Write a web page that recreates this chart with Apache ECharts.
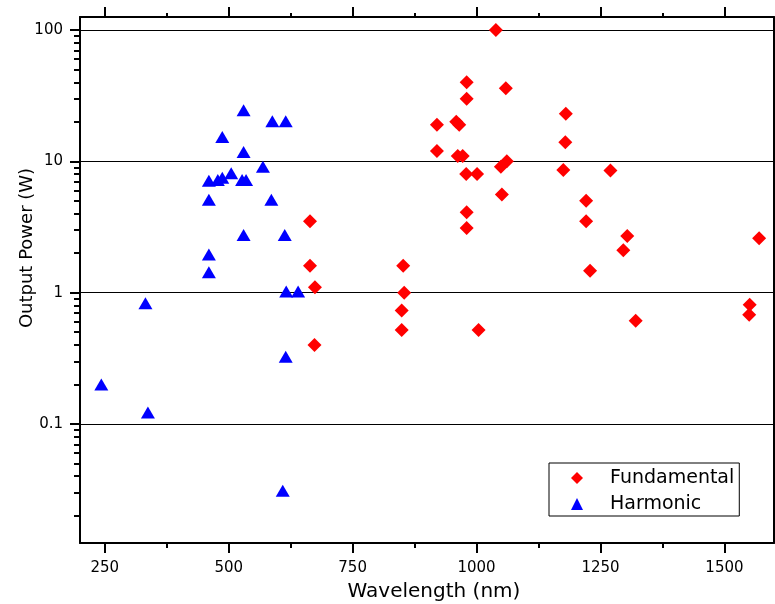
<!DOCTYPE html>
<html>
<head>
<meta charset="utf-8">
<script src="https://cdn.jsdelivr.net/npm/echarts@6/dist/echarts.min.js"></script>
<style>
html,body{margin:0;padding:0;background:#fff;}
#chart{width:775px;height:604px;}
</style>
</head>
<body>
<div id="chart"></div>
<script>
// Fundamental (red diamonds): wavelength (nm), output power (W)
const fundWavelength = [664, 664, 674, 673, 1039, 980, 1059, 980, 1180, 920, 959, 965, 1179, 920, 962, 972, 1061, 1049, 1175, 1270, 979, 1001, 1051, 1221, 980, 1221, 980, 1304, 1570, 1296, 852, 1229, 854, 849, 849, 1004, 1321, 1551, 1550];
const fundPower      = [3.5, 1.6, 1.1, 0.40, 100, 40, 36, 30, 23, 19, 20, 19, 14, 12, 11, 11, 10, 9.1, 8.6, 8.5, 8.0, 8.0, 5.6, 5.0, 4.1, 3.5, 3.1, 2.7, 2.6, 2.1, 1.6, 1.47, 1.0, 0.73, 0.52, 0.52, 0.61, 0.81, 0.68];
// Harmonic (blue triangles)
const harmWavelength = [530, 487, 588, 615, 530, 569, 505, 460, 478, 487, 527, 535, 460, 586, 530, 613, 460, 460, 616, 640, 332, 243, 337, 615, 609];
const harmPower      = [24.5, 15.3, 20.2, 20.2, 11.8, 9.1, 8.1, 7.1, 7.2, 7.5, 7.2, 7.2, 5.1, 5.1, 2.75, 2.75, 1.95, 1.43, 1.02, 1.02, 0.83, 0.20, 0.122, 0.325, 0.031];
// Axis ticks and labels
const xMajorTicks = [250, 500, 750, 1000, 1250, 1500];
const xMinorTicks = [375, 625, 875, 1125, 1375];
const yMajorTicks = [0.1, 1, 10, 100];
const yMinorTicks = [0.02,0.03,0.04,0.05,0.06,0.07,0.08,0.09,0.2,0.3,0.4,0.5,0.6,0.7,0.8,0.9,2,3,4,5,6,7,8,9,20,30,40,50,60,70,80,90];
const seriesNames = ['Fundamental', 'Harmonic'];

const X_MIN = 200, X_MAX = 1600;
const Y_MIN = 0.0124, Y_MAX = 125.6;
const FONT = 'DejaVu Sans';

const fundData = fundWavelength.map((x, i) => [x, fundPower[i]]);
const harmData = harmWavelength.map((x, i) => [x, harmPower[i]]);

function xAxisBase(pos, ticks, len, showLine) {
  return {
    type: 'value', position: pos, min: X_MIN, max: X_MAX,
    axisLine: { show: showLine, onZero: false, lineStyle: { color: '#000', width: 2 } },
    axisTick: { show: true, customValues: ticks, length: len, lineStyle: { color: '#000', width: 2 } },
    axisLabel: { show: false },
    splitLine: { show: false }
  };
}
function yAxisBase(pos, ticks, len, showLine) {
  return {
    type: 'log', position: pos, min: Y_MIN, max: Y_MAX,
    axisLine: { show: showLine, onZero: false, lineStyle: { color: '#000', width: 2 } },
    axisTick: ticks ? { show: true, customValues: ticks, length: len, lineStyle: { color: '#000', width: 2 } } : { show: false },
    axisLabel: { show: false },
    splitLine: { show: false }
  };
}

const xMain = xAxisBase('bottom', xMajorTicks, 10, true);
xMain.axisLabel = { show: true, customValues: xMajorTicks, fontFamily: FONT, fontSize: 15, color: '#000', margin: 18,
  formatter: v => String(v) };
xMain.name = 'Wavelength (nm)';
xMain.nameLocation = 'middle';
xMain.nameGap = 39;
xMain.nameMoveOverlap = false;
xMain.nameTextStyle = { fontFamily: FONT, fontSize: 20, color: '#000', padding: [0, 0, 0, 14] };

const yMain = yAxisBase('left', yMajorTicks, 10, true);
yMain.axisLabel = { show: true, customValues: yMajorTicks, fontFamily: FONT, fontSize: 15, color: '#000', margin: 17,
  formatter: v => String(+Number(v).toPrecision(3)) };
yMain.splitLine = { show: true, lineStyle: { color: '#000', width: 1 } };
yMain.name = 'Output Power (W)';
yMain.nameLocation = 'middle';
yMain.nameRotate = 90;
yMain.nameGap = 44;
yMain.nameMoveOverlap = false;
yMain.nameTextStyle = { fontFamily: FONT, fontSize: 18, color: '#000', padding: [0, 0, 0, 64] };

const option = {
  animation: false,
  backgroundColor: '#fff',
  grid: { left: 80, right: 1, top: 17, bottom: 61, containLabel: false, outerBoundsMode: 'none' },
  legend: {
    orient: 'vertical', left: 549, top: 463,
    data: [{ name: seriesNames[0], icon: 'diamond' }, { name: seriesNames[1], icon: 'triangle' }],
    itemWidth: 12, itemHeight: 12, itemGap: 6,
    padding: [5, 5, 2, 22],
    borderColor: '#000', borderWidth: 1, borderRadius: 0, backgroundColor: '#fff',
    textStyle: { fontFamily: FONT, fontSize: 19, color: '#000', lineHeight: 20, padding: [0, 0, 0, 22] }
  },
  xAxis: [
    xMain,
    xAxisBase('bottom', xMinorTicks, 5, false),
    xAxisBase('top', xMajorTicks, 10, true),
    xAxisBase('top', xMinorTicks, 4, false)
  ],
  yAxis: [
    yMain,
    yAxisBase('left', yMinorTicks, 6, false),
    yAxisBase('right', null, 0, true)
  ],
  series: [
    { name: seriesNames[0], type: 'scatter', xAxisIndex: 0, yAxisIndex: 0, symbol: 'diamond', symbolSize: 14,
      itemStyle: { color: '#ff0000', opacity: 1 }, data: fundData },
    { name: seriesNames[1], type: 'scatter', xAxisIndex: 0, yAxisIndex: 0, symbol: 'triangle', symbolSize: [14, 12],
      itemStyle: { color: '#0000ff', opacity: 1 }, data: harmData }
  ]
};

const chart = echarts.init(document.getElementById('chart'), null, { renderer: 'canvas' });
chart.setOption(option);
</script>
</body>
</html>
